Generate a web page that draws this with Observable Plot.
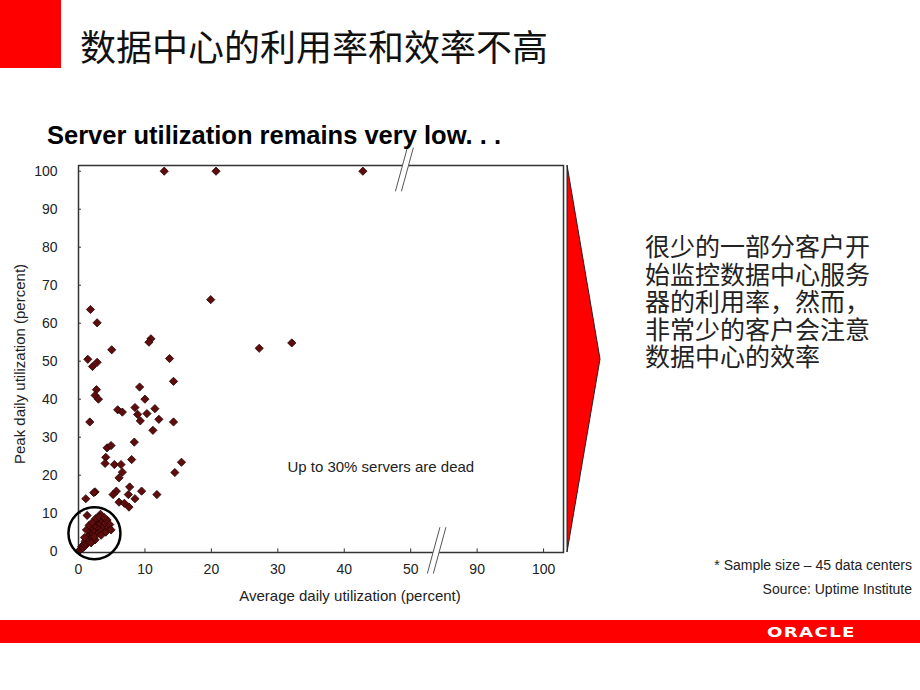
<!DOCTYPE html>
<html><head><meta charset="utf-8">
<script src="https://cdn.jsdelivr.net/npm/d3@7"></script>
<script src="https://cdn.jsdelivr.net/npm/@observablehq/plot@0.6"></script>
<style>
body{margin:0;background:#fff;}
#slide{position:relative;width:920px;height:690px;overflow:hidden;font-family:"Liberation Sans",Arial,sans-serif;background:#fff;}
.abs{position:absolute;white-space:nowrap;}
#chart{position:absolute;left:0;top:140px;}
.rl{height:27.5px;font:25px/27.5px 'Noto Sans CJK SC';color:#222;overflow:visible;}
</style></head><body>
<div id="slide">
  <div class="abs" style="left:0;top:0;width:61px;height:68px;background:#ff0000"></div>
  <div class="abs" style="left:80px;top:25px;font:36px/40px 'Noto Sans CJK SC';color:#111">数据中心的利用率和效率不高</div>
  <div id="chart"></div>
  <div class="abs" style="left:47px;top:121px;font:bold 25.5px/28px 'Liberation Sans';color:#000">Server utilization remains very low. . .</div>
  <svg class="abs" style="left:560px;top:160px" width="50" height="400">
    <polygon points="7,5 40,199 7,392" fill="#ff0000" stroke="#222" stroke-width="1"/>
  </svg>
  <div class="abs" style="left:645px;top:232px">
    <div class="rl">很少的一部分客户开</div>
    <div class="rl">始监控数据中心服务</div>
    <div class="rl">器的利用率，然而，</div>
    <div class="rl">非常少的客户会注意</div>
    <div class="rl">数据中心的效率</div>
  </div>
  <div class="abs" style="right:8px;top:557px;font:14px/16px 'Liberation Sans';color:#222">* Sample size – 45 data centers</div>
  <div class="abs" style="right:8px;top:581px;font:14px/16px 'Liberation Sans';color:#222">Source: Uptime Institute</div>
  <div class="abs" style="left:0;top:620px;width:920px;height:23px;background:#fe0000"></div>
  <div class="abs" style="left:767px;top:624px;font:bold 14px/16px 'DejaVu Sans';color:#fff;letter-spacing:1px;transform:scaleX(1.3);transform-origin:left center">ORACLE</div>
</div>
<script>
// Average daily utilization (percent)
const avgUtil = [
  12.9, 20.7, 42.8, 19.9, 27.2, 32.1, 1.8, 2.8, 10.9, 10.6,
  5.0, 1.4, 2.8, 2.1, 13.7, 14.3, 2.7, 2.5, 3.0, 9.2,
  10.0, 1.7, 5.9, 6.6, 8.5, 8.9, 10.3, 11.5, 9.3, 12.1,
  14.3, 11.2, 8.4, 4.3, 4.9, 4.1, 4.0, 5.4, 6.4, 8.0,
  6.6, 6.1, 15.5, 14.5, 2.5, 7.7, 5.7, 5.2, 7.5, 9.5,
  11.8, 1.1, 6.1, 6.9, 7.6, 8.5, 1.3, 3.3, 2.3,
  0.2, 0.4, 0.5, 0.7, 0.8, 1.0, 1.0, 1.2, 1.3, 1.5,
  1.5, 1.7, 1.8, 2.0, 2.0, 2.2, 2.3, 2.5, 2.5, 2.7,
  2.8, 3.0, 3.0, 3.2, 3.3, 3.5, 3.6, 3.8, 4.0, 4.1,
  4.3, 4.5, 4.7, 4.9, 1.2, 1.6, 2.1, 2.6, 3.1, 3.4,
  1.9, 2.4, 0.9, 3.9
];
// Peak daily utilization (percent)
const peakUtil = [
  100, 100, 100, 66.2, 53.4, 54.8, 63.6, 60.1, 55.9, 55.0,
  53.0, 50.5, 49.7, 48.6, 50.7, 44.7, 42.5, 41.0, 40.0, 43.2,
  40.0, 34.0, 37.2, 36.6, 37.8, 36.0, 36.2, 37.5, 34.3, 34.7,
  34.0, 31.8, 28.7, 27.2, 27.8, 24.7, 23.1, 22.8, 22.8, 24.1,
  20.8, 19.3, 23.4, 20.7, 15.6, 16.9, 15.8, 14.9, 14.9, 15.8,
  14.9, 13.8, 12.9, 12.6, 11.6, 13.8, 9.4, 9.7, 15.4,
  0.3, 0.6, 1.2, 0.9, 1.8, 1.4, 2.6, 2.0, 3.2, 2.4,
  4.0, 3.0, 5.0, 3.6, 6.2, 4.5, 7.0, 5.2, 3.0, 6.4,
  7.8, 4.8, 8.4, 6.0, 7.2, 5.4, 8.0, 6.6, 7.4, 5.0,
  8.2, 6.2, 7.0, 5.6, 5.6, 6.8, 7.6, 8.6, 9.0, 4.2,
  2.2, 3.8, 3.6, 8.8
];
// Broken x axis: positions 60 and 70 carry the labels 90 and 100
const xTickPos = [0, 10, 20, 30, 40, 50, 60, 70];
const xTickLabels = ["0", "10", "20", "30", "40", "50", "90", "100"];
const yTicks = [0, 10, 20, 30, 40, 50, 60, 70, 80, 90, 100];
const xLabel = "Average daily utilization (percent)";
const yLabel = "Peak daily utilization (percent)";
const annotation = "Up to 30% servers are dead";
const highlight = [{x: 2.4, y: 4.7}];
const breakMarks = [
  {x1: 52.5, y1: -5.9, x2: 54.4, y2: 6.3},
  {x1: 47.7, y1: 94.7, x2: 49.5, y2: 106.2}
];

const data = avgUtil.map((x, i) => ({x, y: peakUtil[i]}));

const chart = Plot.plot({
  width: 600,
  height: 480,
  marginLeft: 78,
  marginRight: 37,
  marginTop: 25,
  marginBottom: 68,
  x: {domain: [0, 73]},
  y: {domain: [-0.35, 101.5]},
  style: {fontFamily: "'Liberation Sans', Arial, sans-serif", fontSize: "14px", color: "#222", background: "none", overflow: "visible"},
  marks: [
    Plot.frame({stroke: "#333", strokeWidth: 1.5}),
    Plot.axisY(yTicks, {tickSize: 0, tickPadding: 21, fontSize: 14, label: null}),
    Plot.axisX(xTickPos, {tickSize: 0, tickPadding: 12, fontSize: 14, label: null,
      tickFormat: d => xTickLabels[xTickPos.indexOf(d)]}),
    Plot.ruleY(yTicks, {y: d => d, x1: 0, x2: 0.45, stroke: "#333"}),
    Plot.ruleX(xTickPos, {x: d => d, y1: -0.35, y2: 0.6, stroke: "#333"}),
    Plot.link(breakMarks, {x1: "x1", y1: "y1", x2: "x2", y2: "y2", stroke: "#fff", strokeWidth: 6, dx: 3}),
    Plot.link(breakMarks, {x1: "x1", y1: "y1", x2: "x2", y2: "y2", stroke: "#555", strokeWidth: 1}),
    Plot.link(breakMarks, {x1: "x1", y1: "y1", x2: "x2", y2: "y2", stroke: "#555", strokeWidth: 1, dx: 6}),
    Plot.dot(data, {x: "x", y: "y", symbol: "diamond2", r: 3.7, fill: "#5e0c0c", stroke: "#240303", strokeWidth: 0.8}),
    Plot.dot(highlight, {x: "x", y: "y", r: 26, stroke: "#000", strokeWidth: 2.5, fill: "none"}),
    Plot.text([annotation], {x: 45.5, y: 22, fontSize: 15, fill: "#222"}),
    Plot.text([yLabel], {frameAnchor: "left", textAnchor: "middle", rotate: -90, dx: -58, dy: 5, fontSize: 15, fill: "#222"}),
    Plot.text([xLabel], {frameAnchor: "bottom", textAnchor: "middle", dx: 29, dy: 48, fontSize: 15, fill: "#222"})
  ]
});
document.getElementById("chart").appendChild(chart);
</script>
</body></html>
